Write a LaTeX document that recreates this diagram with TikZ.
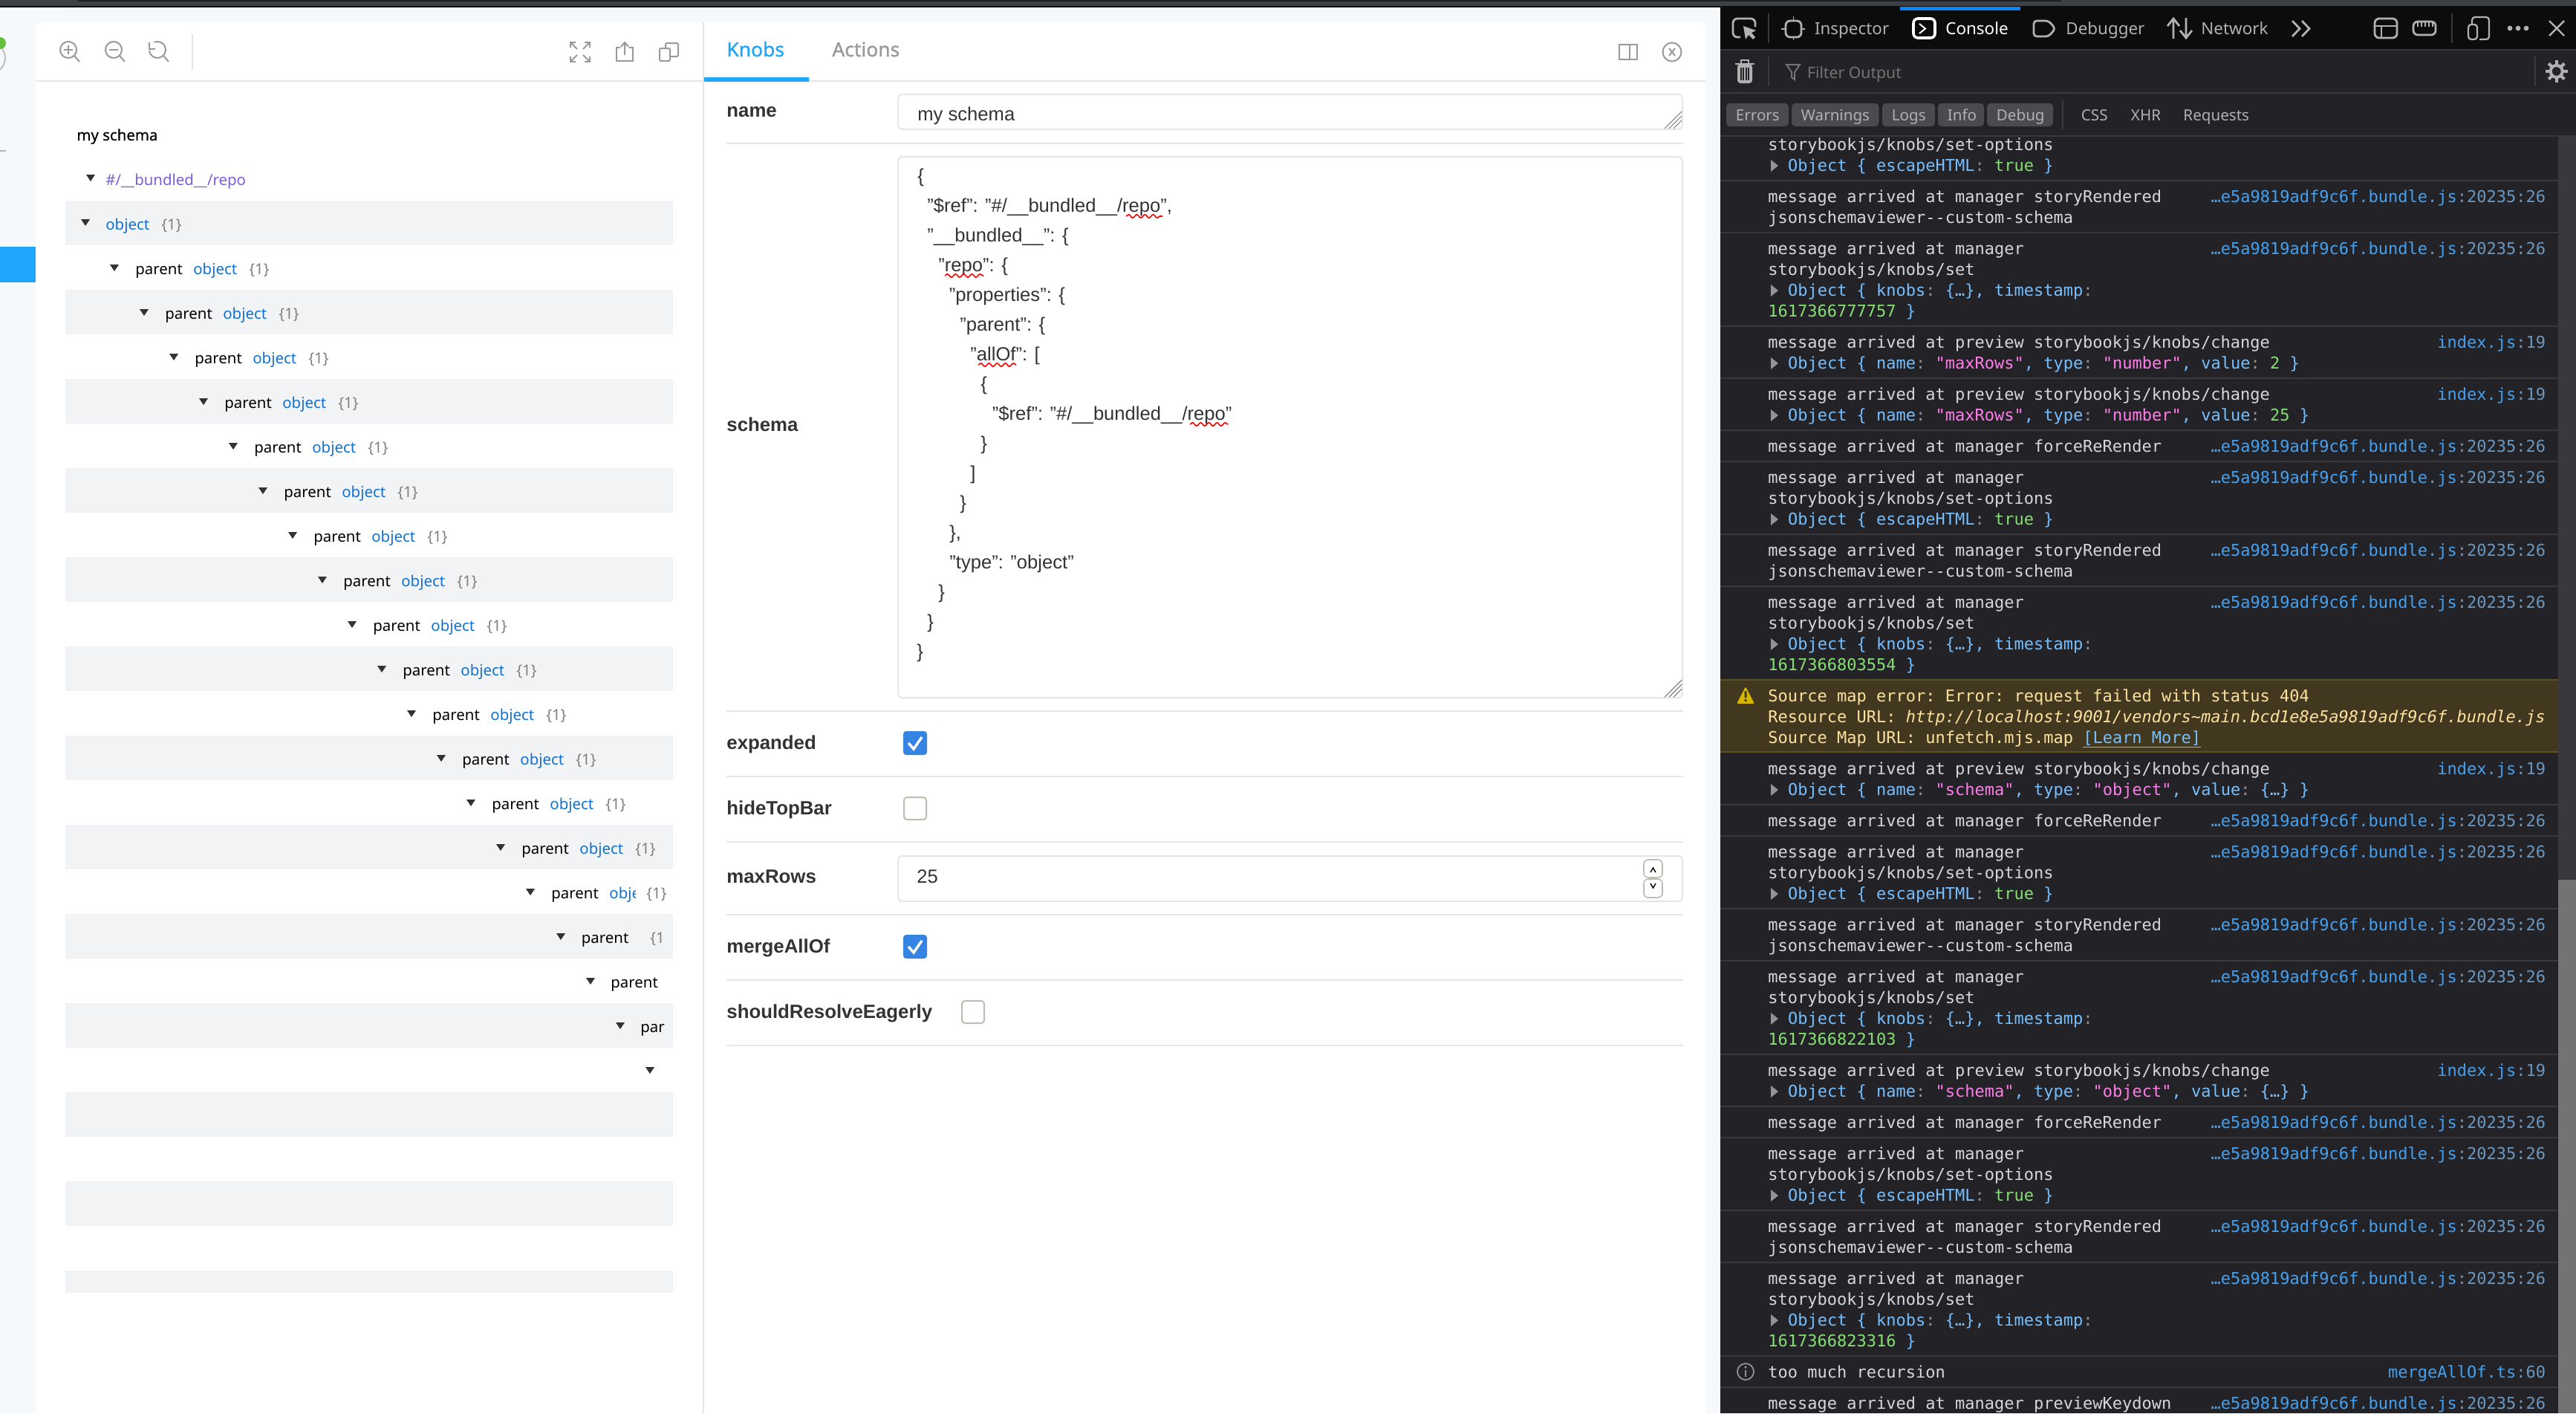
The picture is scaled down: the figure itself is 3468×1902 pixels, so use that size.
\documentclass[tikz,border=0pt]{standalone}
\usepackage{fontspec}
\usepackage{tikz}
\usetikzlibrary{decorations.pathmorphing}
\setmainfont{Liberation Sans}
\setmonofont{DejaVu Sans Mono}
\newfontfamily\uifont{Noto Sans}
\newfontfamily\uimedium[FakeBold=0.4]{Noto Sans}
\newfontfamily\uibold[FakeBold=1]{Noto Sans}

\definecolor{pagebg}{HTML}{F6F9FC}
\definecolor{hairline}{HTML}{E6E6E6}
\definecolor{stripe}{HTML}{F2F3F5}
\definecolor{accent}{HTML}{1EA7FD}
\definecolor{treeblue}{HTML}{1271D1}
\definecolor{treegray}{HTML}{808080}
\definecolor{treepurple}{HTML}{7B5FD9}
\definecolor{ink}{HTML}{333333}
\definecolor{mutedicon}{HTML}{999999}
\definecolor{checkblue}{HTML}{3584E4}
\definecolor{boxgray}{HTML}{C0BBB5}
\definecolor{devbg}{HTML}{232327}
\definecolor{devtop}{HTML}{0C0C0D}
\definecolor{devrule}{HTML}{38383D}
\definecolor{devtext}{HTML}{D7D7DB}
\definecolor{devicon}{HTML}{B1B1B3}
\definecolor{devdim}{HTML}{737373}
\definecolor{pill}{HTML}{4A4A4F}
\definecolor{tabblue}{HTML}{0A84FF}
\definecolor{objblue}{HTML}{75BFFF}
\definecolor{objgreen}{HTML}{86DE74}
\definecolor{objpink}{HTML}{FF7DE9}
\definecolor{objgray}{HTML}{939395}
\definecolor{srcblue}{HTML}{45A1F0}
\definecolor{srcdim}{HTML}{6B97BF}
\definecolor{warnbg}{HTML}{42381F}
\definecolor{warnline}{HTML}{5C5424}
\definecolor{warntext}{HTML}{FCE19F}
\definecolor{warnicon}{HTML}{D7B600}
\definecolor{dotgreen}{HTML}{66BF3C}
\definecolor{barback}{HTML}{3C4145}
\definecolor{bardark}{HTML}{1E2024}

\tikzset{
  treetext/.style={anchor=base west,inner sep=0pt,font=\uifont\fontsize{10.2}{12}\selectfont},
  knoblabel/.style={anchor=base west,inner sep=0pt,text=ink,font=\bfseries\fontsize{12.9}{15}\selectfont},
  fieldtext/.style={anchor=base west,inner sep=0pt,text=ink,font=\fontsize{12.8}{15}\selectfont},
  tabtext/.style={anchor=base west,inner sep=0pt,font=\uibold\fontsize{13.2}{15}\selectfont},
  devtab/.style={anchor=base west,inner sep=0pt,text=devicon,font=\uifont\fontsize{11.2}{13}\selectfont},
  devsmall/.style={anchor=base west,inner sep=0pt,text=devicon,font=\uifont\fontsize{10.3}{12}\selectfont},
  msgtext/.style={anchor=base west,inner sep=0pt,text=devtext,font=\ttfamily\fontsize{11}{13}\selectfont},
  srctext/.style={anchor=base east,inner sep=0pt,font=\ttfamily\fontsize{11}{13}\selectfont},
  rule/.style={hairline,line width=1.25pt},
  field/.style={draw=hairline,line width=1pt,rounded corners=3pt,fill=white},
  iconline/.style={mutedicon,line width=1pt},
  devstroke/.style={devicon,line width=1.4pt},
  devsep/.style={devrule,line width=.8pt},
  redwave/.style={red,line width=.8pt,decorate,decoration={snake,amplitude=1.1pt,segment length=5.5pt}},
}

\newcommand{\ob}[1]{\textcolor{objblue}{#1}}
\newcommand{\og}[1]{\textcolor{objgray}{#1}}
\newcommand{\on}[1]{\textcolor{objgreen}{#1}}
\newcommand{\op}[1]{\textcolor{objpink}{#1}}
\newcommand{\treearrow}[2]{\fill[ink] (#1-6,#2-4) -- (#1+6,#2-4) -- (#1,#2+5) -- cycle;}
\newcommand{\msgline}[2]{\node[msgtext] (msg#1) at (2380,#1+7) {#2};}
\newcommand{\objline}[2]{
  \fill[objgray] (2384,#1-8) -- (2394,#1) -- (2384,#1+8) -- cycle;
  \node[msgtext] (obj#1) at (2406.6,#1+7) {#2};
}
\newcommand{\srcbundle}[1]{\node[srctext] (src#1) at (3427.4,#1+7) {\textcolor{srcblue}{…e5a9819adf9c6f.bundle.js}\textcolor{srcdim}{:20235:26}};}
\newcommand{\srcindex}[1]{\node[srctext] (src#1) at (3427.4,#1+7) {\textcolor{srcblue}{index.js}\textcolor{srcdim}{:19}};}
\newcommand{\rowforce}[1]{\msgline{#1}{message arrived at manager forceReRender}\srcbundle{#1}}
\newcommand{\rowrendered}[2]{\msgline{#1}{message arrived at manager storyRendered}\srcbundle{#1}\msgline{#2}{jsonschemaviewer--custom-schema}}
\newcommand{\rowoptions}[3]{\msgline{#1}{message arrived at manager}\srcbundle{#1}\msgline{#2}{storybookjs/knobs/set-options}
  \objline{#3}{\ob{Object \{ escapeHTML}\og{:} \on{true} \ob{\}}}}
\newcommand{\rowset}[5]{\msgline{#1}{message arrived at manager}\srcbundle{#1}\msgline{#2}{storybookjs/knobs/set}
  \objline{#3}{\ob{Object \{ knobs}\og{:} \ob{\{…\}, timestamp}\og{:}}\msgline{#4}{\on{#5} \ob{\}}}}
\newcommand{\rowchange}[3]{\msgline{#1}{message arrived at preview storybookjs/knobs/change}\srcindex{#1}\objline{#2}{#3}}

\begin{document}
\begin{tikzpicture}[x=0.5pt,y=-0.5pt]
  \useasboundingbox (0,0) rectangle (3468,1902);
  \clip (0,0) rectangle (3468,1902);
  \fill[pagebg] (0,0) rectangle (3468,1902);

  % window top edge
  \fill[barback] (0,0) rectangle (3468,8);
  \fill[bardark] (105,0) rectangle (2775,2);
  \fill[black] (0,8) rectangle (3468,10);

  % storybook sidebar leftovers
  \fill[accent] (0,332) rectangle (48,380);
  \draw[black!25,line width=1pt] (-14,78) circle (21);
  \fill[dotgreen] (0,58) circle (8);
  \draw[black!30,line width=1pt] (0,203) -- (8,203);

  % main panel
  \fill[white,rounded corners=3pt] (48,30) rectangle (2296,1930);
  \draw[hairline,line width=1pt] (947,30) -- (947,1902);
  \draw[hairline,line width=1.25pt] (48,109) -- (2296,109);
  \fill[accent] (948,104) rectangle (1089,110);

  % preview toolbar
  \foreach \cx in {92,153,212} {
    \begin{scope}[shift={(\cx,67)}]
      \draw[iconline] (0,0) circle (11);
      \draw[iconline] (8,8) -- (15,16);
    \end{scope}
  }
  \draw[iconline] (86,67) -- (98,67) (92,61) -- (92,73);
  \draw[iconline] (147,67) -- (159,67);
  \fill[white] (200,57) rectangle (209,68);
  \draw[iconline] (201,57) -- (201,66) -- (209,66);
  \draw[hairline,line width=1pt] (259,46) -- (259,94);
  \begin{scope}[shift={(781,70)}]
    \draw[iconline] (-13,-6) -- (-13,-13) -- (-6,-13) (-12,-12) -- (-4,-4);
    \draw[iconline] (13,-6) -- (13,-13) -- (6,-13) (12,-12) -- (4,-4);
    \draw[iconline] (-13,6) -- (-13,13) -- (-6,13) (-12,12) -- (-4,4);
    \draw[iconline] (13,6) -- (13,13) -- (6,13) (12,12) -- (4,4);
  \end{scope}
  \draw[iconline] (835,64) -- (830,64) -- (830,82) -- (852,82) -- (852,64) -- (847,64);
  \draw[iconline] (841,74) -- (841,58) (836,63) -- (841,57) -- (846,63);
  \draw[iconline,rounded corners=1pt] (888,65) rectangle (902,82);
  \draw[iconline,rounded corners=1pt] (896,65) -- (896,58) -- (913,58) -- (913,76) -- (902,76);

  % tree
  \node[anchor=base west,inner sep=0pt,font=\uimedium\fontsize{10.2}{12}\selectfont] (title) at (103,189) {my schema};
  \treearrow{122}{239}
  \node[treetext,text=treepurple] (ref) at (142,249) {\#/\_\_bundled\_\_/repo};
  \foreach \r in {1,3,...,23} {
    \fill[stripe] (88,{210+60*\r}) rectangle (906,{270+60*\r});
  }
  \fill[stripe] (88,1710) rectangle (906,1740);
  \treearrow{115}{299}
  \node[treetext,text=treeblue] (rootobj) at (142,309) {object};
  \node[treetext,text=treegray] (rootnum) at (217,309) {\{1\}};
  \foreach \r in {2,...,15} {
    \pgfmathsetmacro{\px}{182+40*(\r-2)}
    \pgfmathsetmacro{\py}{240+60*\r}
    \treearrow{\px-28}{\py}
    \node[treetext] (parent\r) at (\px,\py+9) {parent};
    \node[treetext,text=treeblue] (object\r) at (\px+78,\py+9) {object};
    \node[treetext,text=treegray] (count\r) at (\px+153,\py+9) {\{1\}};
  }
  \treearrow{714}{1200}
  \node[treetext] (parent16) at (742,1209) {parent};
  \begin{scope}
    \clip (815,1180) rectangle (855,1220);
    \node[treetext,text=treeblue] (object16) at (820,1209) {object};
  \end{scope}
  \node[treetext,text=treegray] (count16) at (870,1209) {\{1\}};
  \treearrow{755}{1260}
  \node[treetext] (parent17) at (782.5,1269) {parent};
  \begin{scope}
    \clip (870,1240) rectangle (894,1280);
    \node[treetext,text=treegray] (count17) at (875,1269) {\{1\}};
  \end{scope}
  \treearrow{795}{1320}
  \node[treetext] (parent18) at (822,1329) {parent};
  \treearrow{835}{1380}
  \begin{scope}
    \clip (855,1360) rectangle (894,1400);
    \node[treetext] (parent19) at (862,1389) {parent};
  \end{scope}
  \treearrow{875}{1440}

  % knobs tabs
  \node[tabtext,text=accent] (knobs) at (978,76) {Knobs};
  \node[tabtext,text=mutedicon] (actions) at (1120,76) {Actions};
  \draw[iconline] (2180,60) rectangle (2204,80) (2194,60) -- (2194,80);
  \draw[iconline] (2251,70) circle (12.5);
  \draw[iconline] (2247,65) -- (2255,75) (2255,65) -- (2247,75);

  % knob rows
  \foreach \ly in {193,957,1045,1133,1231,1319,1407} {
    \draw[rule] (978,\ly) -- (2266,\ly);
  }
  \node[knoblabel] (lname) at (978,157) {name};
  \node[knoblabel] (lschema) at (978,580) {schema};
  \node[knoblabel] (lexpanded) at (978,1008) {expanded};
  \node[knoblabel] (lhide) at (978,1096) {hideTopBar};
  \node[knoblabel] (lmax) at (978,1188) {maxRows};
  \node[knoblabel] (lmerge) at (978,1282) {mergeAllOf};
  \node[knoblabel] (lresolve) at (978,1370) {shouldResolveEagerly};

  \draw[field] (1209,127) rectangle (2265,174);
  \node[fieldtext] (namevalue) at (1235,162.5) {my schema};
  \foreach \d in {0,6,12} {
    \draw[black!55,line width=.5pt] (2264,{150+\d}) -- ({2241+\d},173);
  }
  \draw[field] (1209,211) rectangle (2265,939);
  \foreach \d in {0,6,12} {
    \draw[black!55,line width=.5pt] (2264,{915+\d}) -- ({2241+\d},938);
  }
  \foreach \k/\x/\txt in {
    0/1235/{\{},
    1/1248/{"\$ref": "\#/\_\_bundled\_\_/repo",},
    2/1248/{"\_\_bundled\_\_": \{},
    3/1263/{"repo": \{},
    4/1277.5/{"properties": \{},
    5/1292/{"parent": \{},
    6/1306/{"allOf": [},
    7/1320/{\{},
    8/1335.5/{"\$ref": "\#/\_\_bundled\_\_/repo"},
    9/1320/{\}},
    10/1306/{]},
    11/1292/{\}},
    12/1278/{\},},
    13/1278/{"type": "object"},
    14/1263/{\}},
    15/1248/{\}},
    16/1234/{\}}} {
    \node[fieldtext] (json\k) at (\x,{245+40*\k}) {\txt};
  }
  \draw[redwave] (1516,291) -- (1565,291);
  \draw[redwave] (1272,371) -- (1324,371);
  \draw[redwave] (1317,491) -- (1368,491);
  \draw[redwave] (1602,571) -- (1653,571);

  \foreach \by in {984,1258} {
    \fill[checkblue,rounded corners=2pt] (1216,\by) rectangle (1248,\by+32);
    \draw[white,line width=1.7pt] (1223,\by+16) -- (1230,\by+24) -- (1241,\by+8);
  }
  \draw[boxgray,line width=1pt,rounded corners=2pt] (1217,1073) rectangle (1247,1103);
  \draw[boxgray,line width=1pt,rounded corners=2pt] (1295,1347) rectangle (1325,1377);
  \draw[field] (1209,1152) rectangle (2265,1213);
  \node[fieldtext] (maxvalue) at (1234,1188) {25};
  \draw[boxgray,line width=.8pt,rounded corners=3pt] (2213,1157) rectangle (2238,1181);
  \draw[boxgray,line width=.8pt,rounded corners=3pt] (2213,1183) rectangle (2238,1208);
  \draw[black,line width=.7pt] (2222,1174) -- (2225.5,1168) -- (2229,1174);
  \draw[black,line width=.7pt] (2222,1189) -- (2225.5,1195) -- (2229,1189);

  % devtools frame
  \fill[devbg] (2316,10) rectangle (3468,1902);
  \fill[devtop] (2316,8) rectangle (3468,66);
  \fill[tabblue] (2558,9) rectangle (2720,14);
  \foreach \ly in {67,125,183} {
    \draw[devrule,line width=1pt] (2316,\ly) -- (3468,\ly);
  }
  \fill[devrule] (3444,184) rectangle (3468,1902);
  \fill[devdim] (3444,1184) rectangle (3468,1902);

  % devtools tabs
  \node[devtab] (inspector) at (2442.6,46.7) {Inspector};
  \node[devtab,text=white] (console) at (2619,46.7) {Console};
  \node[devtab] (debugger) at (2781,46.7) {Debugger};
  \node[devtab] (network) at (2963,46.7) {Network};
  \draw[devsep] (2381,18) -- (2381,58) (3301,18) -- (3301,58);
  \draw[devsep] (2381,76) -- (2381,116) (3413,76) -- (3413,116) (2777,134) -- (2777,174);

  \draw[devstroke,rounded corners=3pt] (2343,50) -- (2333,50) -- (2333,25) -- (2363,25) -- (2363,36);
  \fill[devicon] (2347,35) -- (2350,53) -- (2354,47) -- (2360,53) -- (2363,50) -- (2358,44) -- (2364,41) -- cycle;
  \draw[devstroke,rounded corners=3pt] (2404,28) rectangle (2425,50);
  \draw[devicon,line width=.8pt] (2414.5,22) -- (2414.5,28) (2414.5,50) -- (2414.5,54) (2398,39) -- (2404,39) (2425,39) -- (2430,39);
  \draw[white,line width=1.8pt,rounded corners=3pt] (2576,25) rectangle (2605,51);
  \draw[white,line width=1pt] (2584,32) -- (2592,38.5) -- (2584,45);
  \draw[devstroke,rounded corners=2pt] (2738,28) -- (2758,28) -- (2767,38.5) -- (2758,49) -- (2738,49) -- cycle;
  \draw[devstroke] (2926,52) -- (2926,26) (2918,35) -- (2926,25) -- (2934,35);
  \draw[devstroke] (2943,24) -- (2943,50) (2935,41) -- (2943,51) -- (2951,41);
  \draw[devstroke] (3086,28) -- (3096,38.5) -- (3086,49) (3099,28) -- (3109,38.5) -- (3099,49);
  \draw[devstroke,rounded corners=3pt] (3197,25) rectangle (3227,51);
  \draw[devicon,line width=1pt] (3197,35) -- (3227,35) (3206,35) -- (3206,51);
  \draw[devstroke,rounded corners=3pt] (3249,29) rectangle (3279,47);
  \foreach \tx in {3255,3260,3265,3270,3275} {
    \draw[devicon,line width=.6pt] (\tx,29) -- (\tx,36);
  }
  \draw[devicon,line width=1.1pt,rounded corners=2pt] (3323,33) rectangle (3335,53);
  \draw[devicon,line width=1.1pt,rounded corners=2pt] (3328,33) -- (3328,23) -- (3351,23) -- (3351,53) -- (3338,53);
  \foreach \dx in {3379,3390,3401} {
    \fill[devicon] (\dx,38) circle (3.4);
  }
  \draw[devicon,line width=1.2pt] (3432,28) -- (3452,48) (3452,28) -- (3432,48);

  % filter bar
  \fill[devicon,rounded corners=2pt] (2339,86) rectangle (2359,112);
  \fill[devbg] (2343,91) rectangle (2355,108);
  \draw[devicon,line width=.6pt] (2345.5,91) -- (2345.5,108) (2349,91) -- (2349,108) (2352.5,91) -- (2352.5,108);
  \draw[devicon,line width=1.1pt] (2336,86) -- (2362,86);
  \draw[devicon,line width=.9pt] (2344,85) -- (2344,81) -- (2354,81) -- (2354,85);
  \draw[devdim,line width=1pt] (2405,87) -- (2423,87) -- (2416,97) -- (2416,107) -- (2412,104) -- (2412,97) -- cycle;
  \node[devsmall,text=devdim,font=\uifont\fontsize{10.6}{12}\selectfont] (filter) at (2432.6,105) {Filter Output};
  \begin{scope}[shift={(3441.7,96)}]
    \foreach \a in {0,45,...,315} {
      \draw[devicon,line width=2pt] (\a:9) -- (\a:15);
    }
    \draw[devicon,line width=2pt] (0,0) circle (8);
  \end{scope}

  % filter pills
  \foreach \pa/\pb/\txt in {2324/2408/Errors,2412/2529.5/Warnings,2534/2605/Logs,2609/2671/Info,2675/2764/Debug} {
    \fill[pill,rounded corners=2.5pt] (\pa,139) rectangle (\pb,170);
    \node[devsmall] (pill\txt) at (\pa+12.5,162.6) {\txt};
  }
  \node[devsmall] (css) at (2801.5,162.6) {CSS};
  \node[devsmall] (xhr) at (2868.5,162.6) {XHR};
  \node[devsmall] (requests) at (2939,162.6) {Requests};

  % console messages
  \foreach \ly in {243,313,439,509,579,621,719,789,1083,1125,1223,1293,1419,1489,1531,1629,1699,1825,1867} {
    \draw[devrule,line width=1.1pt] (2316,\ly) -- (3444,\ly);
  }
  \msgline{195}{storybookjs/knobs/set-options}
  \objline{223}{\ob{Object \{ escapeHTML}\og{:} \on{true} \ob{\}}}
  \rowrendered{265}{293}
  \rowset{335}{363}{391}{419}{1617366777757}
  \rowchange{461}{489}{\ob{Object \{ name}\og{:} \op{"maxRows"}\ob{, type}\og{:} \op{"number"}\ob{, value}\og{:} \on{2} \ob{\}}}
  \rowchange{531}{559}{\ob{Object \{ name}\og{:} \op{"maxRows"}\ob{, type}\og{:} \op{"number"}\ob{, value}\og{:} \on{25} \ob{\}}}
  \rowforce{601}
  \rowoptions{643}{671}{699}
  \rowrendered{741}{769}
  \rowset{811}{839}{867}{895}{1617366803554}

  % warning row
  \fill[warnbg] (2316,914) rectangle (3444,1013);
  \draw[warnline,line width=1pt] (2316,915) -- (3444,915) (2316,1012) -- (3444,1012);
  \fill[warnicon,rounded corners=1pt] (2350,924) -- (2362,947) -- (2338,947) -- cycle;
  \fill[warnbg] (2348.5,930) rectangle (2351.5,939) (2348.5,941) rectangle (2351.5,944);
  \node[msgtext,text=warntext] (warn1) at (2380,944) {Source map error: Error: request failed with status 404};
  \node[msgtext,text=warntext] (warn2) at (2380,972) {Resource URL: \textit{http://localhost:9001/vendors\string~main.bcd1e8e5a9819adf9c6f.bundle.js}};
  \node[msgtext,text=warntext] (warn3) at (2380,1000) {Source Map URL: unfetch.mjs.map \ob{\underline{[Learn More]}}};

  \rowchange{1035}{1063}{\ob{Object \{ name}\og{:} \op{"schema"}\ob{, type}\og{:} \op{"object"}\ob{, value}\og{:} \ob{\{…\} \}}}
  \rowforce{1105}
  \rowoptions{1147}{1175}{1203}
  \rowrendered{1245}{1273}
  \rowset{1315}{1343}{1371}{1399}{1617366822103}
  \rowchange{1441}{1469}{\ob{Object \{ name}\og{:} \op{"schema"}\ob{, type}\og{:} \op{"object"}\ob{, value}\og{:} \ob{\{…\} \}}}
  \rowforce{1511}
  \rowoptions{1553}{1581}{1609}
  \rowrendered{1651}{1679}
  \rowset{1721}{1749}{1777}{1805}{1617366823316}

  % info row
  \draw[objgray,line width=.9pt] (2350,1846) circle (11);
  \fill[objgray] (2350,1840) circle (1.8);
  \draw[objgray,line width=1.2pt] (2350,1844) -- (2350,1853);
  \msgline{1847}{too much recursion}
  \node[srctext] (src1847) at (3427.4,1854) {\textcolor{srcblue}{mergeAllOf.ts}\textcolor{srcdim}{:60}};
  \msgline{1889}{message arrived at manager previewKeydown}
  \srcbundle{1889}
\end{tikzpicture}
\end{document}
